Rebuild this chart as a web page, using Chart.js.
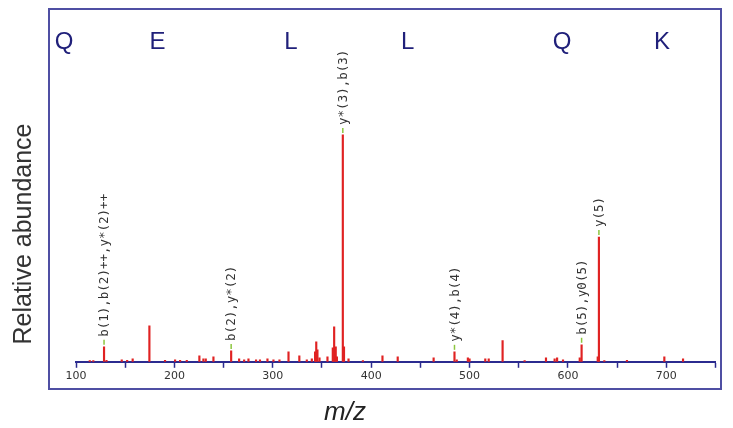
<!DOCTYPE html>
<html>
<head>
<meta charset="utf-8">
<script src="https://cdn.jsdelivr.net/npm/chart.js@4"></script>
<style>
  html, body { margin: 0; padding: 0; background: #fff; }
  #wrap { width: 733px; height: 428px; position: relative; }
</style>
</head>
<body>
<div id="wrap"><canvas id="spec"></canvas></div>
<script>
// peak list (m/z, relative intensity %)
const mz = [114, 117.6, 128.5, 131, 146.5, 152, 157.6, 174.6, 190.5, 200.7, 205.8, 212.6,
  225.4, 229.5, 231.9, 239.7, 257.7, 265.8, 270.9, 275.3, 283, 287, 294.6, 300.7, 306.8,
  316, 327, 334.6, 339.7, 343, 344.2, 345.4, 347.5, 355.6, 361, 362.4, 364, 365.2,
  371.2, 372.4, 377, 391.6, 411.5, 427, 463.5, 484.7, 487, 498.3, 500, 516, 519.5,
  533.6, 556, 577.7, 586.5, 589, 595, 612, 613.9, 630.3, 631.5, 637, 660, 698, 717]
const intensity = [0.5, 0.5, 6.6, 0.7, 0.9, 0.7, 1.3, 15.9, 0.7, 0.9, 0.7, 0.7,
  2.6, 1.3, 1.3, 2.2, 4.8, 1.3, 0.9, 1.3, 0.9, 0.9, 1.3, 0.9, 0.9,
  4.4, 2.6, 0.9, 1.3, 4.4, 8.8, 5.3, 1.8, 2.2, 6.2, 15.4, 6.6, 2.2,
  100, 6.6, 1.3, 0.5, 2.6, 2.2, 1.8, 4.4, 0.9, 1.8, 1.3, 1.3, 1.3,
  9.3, 0.5, 1.8, 1.3, 1.8, 0.9, 1.8, 7.5, 2.2, 55, 0.5, 0.7, 2.2, 1.3]

// annotated fragment ions
const ionMz = [128.5, 257.7, 371.2, 484.7, 613.9, 631.5]
const ionLabels = ['b(1),b(2)++,y*(2)++', 'b(2),y*(2)', 'y*(3),b(3)', 'y*(4),b(4)', 'b(5),y0(5)', 'y(5)']

// peptide sequence shown across the top
const residues = ['Q', 'E', 'L', 'L', 'Q', 'K']
const residuePos = [87.8, 182.8, 318.4, 437.2, 594.1, 695.7]

const navy = '#2b2b8f'

const extras = {
  id: 'extras',
  beforeDraw(chart) {
    const ctx = chart.ctx
    ctx.save()
    ctx.fillStyle = '#fff'
    ctx.fillRect(0, 0, chart.width, chart.height)
    ctx.strokeStyle = '#4f4fa3'
    ctx.lineWidth = 2
    ctx.strokeRect(49, 9, 672, 380)
    ctx.restore()
  },
  afterDraw(chart) {
    const ctx = chart.ctx
    const xs = chart.scales.x, ys = chart.scales.y
    ctx.save()
    // sequence letters
    ctx.font = '24px "Liberation Sans", Arial, sans-serif'
    ctx.fillStyle = '#20207a'
    ctx.textAlign = 'center'
    ctx.textBaseline = 'middle'
    residues.forEach((r, i) => {
      ctx.fillText(r, xs.getPixelForValue(residuePos[i]), chart.chartArea.top + 21)
    })
    // ion labels
    ionMz.forEach((m, i) => {
      const k = mz.indexOf(m)
      const px = xs.getPixelForValue(m)
      const top = ys.getPixelForValue(intensity[k])
      ctx.strokeStyle = '#8cc63f'
      ctx.lineWidth = 1.5
      ctx.beginPath()
      ctx.moveTo(px, top - 2)
      ctx.lineTo(px, top - 7)
      ctx.stroke()
      ctx.save()
      ctx.translate(px + 1, top - 10)
      ctx.rotate(-Math.PI / 2)
      ctx.font = '12.5px "DejaVu Sans Mono", monospace'
      ctx.fillStyle = '#333'
      ctx.textAlign = 'left'
      ctx.textBaseline = 'middle'
      ctx.fillText(ionLabels[i], 0, 0)
      ctx.restore()
    })
    // axis titles
    ctx.fillStyle = '#222'
    ctx.font = 'italic 26px "Liberation Sans", Arial, sans-serif'
    ctx.textAlign = 'center'
    ctx.textBaseline = 'middle'
    ctx.fillText('m/z', 345, 413)
    ctx.save()
    ctx.translate(24, 234)
    ctx.rotate(-Math.PI / 2)
    ctx.font = '25px "Liberation Sans", Arial, sans-serif'
    ctx.fillStyle = '#333'
    ctx.fillText('Relative abundance', 0, 0)
    ctx.restore()
    ctx.restore()
  }
}

new Chart(document.getElementById('spec'), {
  type: 'bar',
  data: {
    datasets: [{
      data: mz.map((x, i) => ({ x: x, y: intensity[i] })),
      backgroundColor: '#e02222',
      barThickness: 1.5
    }]
  },
  options: {
    responsive: true,
    maintainAspectRatio: false,
    animation: false,
    layout: { padding: { left: 76, right: 17.5, top: 21.5, bottom: 43 } },
    plugins: { legend: { display: false }, tooltip: { enabled: false } },
    scales: {
      x: {
        type: 'linear',
        min: 100,
        max: 750,
        offset: false,
        grid: { offset: false, drawOnChartArea: false, drawTicks: true, tickLength: 6, color: navy, tickWidth: 1.5 },
        border: { display: true, color: navy, width: 2 },
        ticks: {
          stepSize: 50,
          autoSkip: false,
          maxRotation: 0,
          padding: 2,
          color: '#333',
          font: { family: '"DejaVu Sans", Verdana, sans-serif', size: 11 },
          callback: v => (v % 100 === 0 && v < 750 ? String(v) : '')
        }
      },
      y: { display: false, min: 0, max: 150 }
    }
  },
  plugins: [extras]
})
</script>
</body>
</html>
